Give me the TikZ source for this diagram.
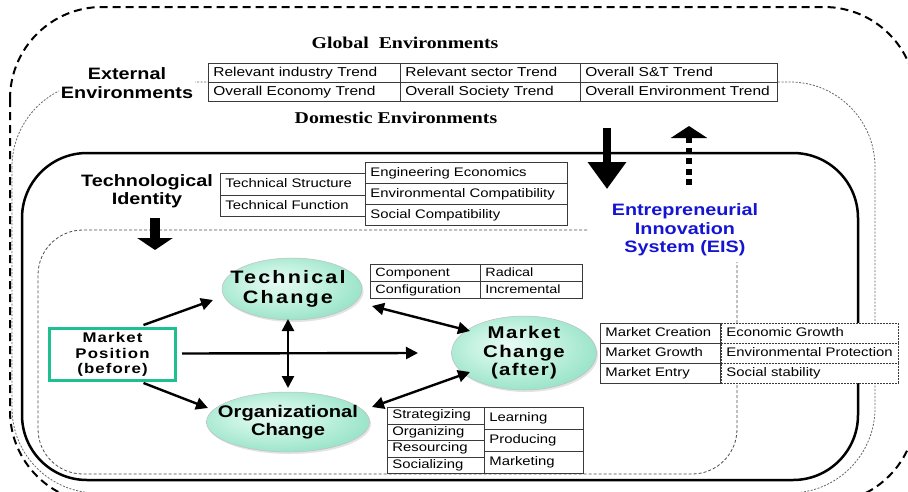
\documentclass[tikz,border=0pt]{standalone}
\usepackage{fontspec}
\setmainfont{Liberation Sans}
\newfontfamily\tabf{Liberation Sans}[FakeStretch=1.2]
\newfontfamily\serf{Liberation Serif}[FakeStretch=1.2]
\newfontfamily\tcf{Liberation Sans}[FakeStretch=1.2,LetterSpace=12]
\newfontfamily\mcf{Liberation Sans}[FakeStretch=1.2,LetterSpace=8]
\usetikzlibrary{arrows.meta,calc,shapes.geometric,shadows}
\definecolor{tabline}{HTML}{3A3A3A}
\definecolor{mpgreen}{HTML}{1FC08F}
\definecolor{eisblue}{HTML}{1414D2}
\definecolor{ellin}{HTML}{E8FBF4}
\definecolor{ellmid}{HTML}{C4F2E1}
\definecolor{ellout}{HTML}{98E3C8}
\pgfdeclareradialshading{ellshade}{\pgfpoint{-6bp}{6bp}}{color(0bp)=(ellin);color(14bp)=(ellmid);color(29bp)=(ellout);color(50bp)=(ellout)}
\newcommand\tcell[7][cell]{\pgfmathsetmacro\cw{#5-10}\node[#1, text width=\cw pt, minimum height=#6pt] (#2) at (#3,#4) {#7};}
\tikzset{
  cell/.style={draw=tabline, line width=0.8pt, fill=white, anchor=north west, inner xsep=5pt, inner ysep=0pt,
    align=left, font=\tabf\fontsize{12.4}{14}\selectfont, text height=9pt, text depth=2.5pt},
  bcell/.style={cell, font=\tabf\fontsize{12.9}{14}\selectfont},
  dcell/.style={cell, dash pattern=on 2pt off 1pt},
  scell/.style={cell, font=\tabf\fontsize{12}{13}\selectfont},
  hd/.style={font=\tabf\bfseries\fontsize{16.5}{18.5}\selectfont, align=center, inner sep=2pt},
  serhd/.style={font=\serf\bfseries\fontsize{16.5}{18.5}\selectfont, inner sep=1pt},
  ell/.style={ellipse, draw=black!25, line width=0.5pt, shading=ellshade, inner sep=0pt,
    drop shadow={shadow xshift=1.5pt, shadow yshift=-2pt, fill=black!22}},
  elltxt/.style={align=center, inner sep=0pt},
  arr/.style={line width=2.4pt, -{Triangle[length=12pt,width=12pt]}},
  darr/.style={line width=2.4pt, {Triangle[length=12pt,width=12pt]}-{Triangle[length=12pt,width=12pt]}},
}
\begin{document}
\begin{tikzpicture}[x=1pt,y=-1pt]
\useasboundingbox (0,0) rectangle (908,491);
\clip (0,0) rectangle (908,491);
% boundaries
\draw[line width=2pt, dash pattern=on 8pt off 5pt, rounded corners=92] (10,7) rectangle (916,503);
\draw[black!60, line width=0.8pt, dash pattern=on 2pt off 1.5pt, rounded corners=85] (12,82) rectangle (875,493);
\draw[line width=2.5pt, rounded corners=65] (22,153) rectangle (858,480);
\draw[black!70, line width=0.8pt, dash pattern=on 3pt off 2pt, rounded corners=45] (587,230) -- (38,230) -- (38,474) -- (737,474) -- (737,262);
% headings
\node[serhd] (glob) at (405,43) {Global\hspace{0.6em}Environments};
\node[serhd] (dom) at (396,118) {Domestic Environments};
\node[hd, fill=white] (ext) at (127,83) {External\\Environments};
\node[hd] (tid) at (147,191) {Technological\\Identity};
\node[hd, text=eisblue] (eis) at (685,230) {Entrepreneurial\\Innovation\\System (EIS)};
% table 1
\tcell[bcell]{t1a}{208}{63}{192}{19}{Relevant industry Trend}
\tcell[bcell]{t1b}{400}{63}{180}{19}{Relevant sector Trend}
\tcell[bcell]{t1c}{580}{63}{197}{19}{Overall S\&T Trend}
\tcell[bcell]{t1d}{208}{82}{192}{19}{Overall Economy Trend}
\tcell[bcell]{t1e}{400}{82}{180}{19}{Overall Society Trend}
\tcell[bcell]{t1f}{580}{82}{197}{19}{Overall Environment Trend}
% table 2
\tcell{t2a}{220}{173}{145}{22}{Technical Structure}
\tcell{t2b}{220}{195}{145}{21}{Technical Function}
\tcell{t2c}{365}{162}{202}{21}{Engineering Economics}
\tcell{t2d}{365}{183}{202}{21}{Environmental Compatibility}
\tcell{t2e}{365}{204}{202}{21}{Social Compatibility}
% table 3
\tcell[scell]{t3a}{370}{264}{110}{17}{Component}
\tcell[scell]{t3b}{480}{264}{102}{17}{Radical}
\tcell[scell]{t3c}{370}{281}{110}{17}{Configuration}
\tcell[scell]{t3d}{480}{281}{102}{17}{Incremental}
% table 4
\tcell{t4a}{600}{323}{120}{20}{Market Creation}
\tcell{t4b}{600}{343}{120}{20}{Market Growth}
\tcell{t4c}{600}{363}{120}{20}{Market Entry}
\tcell[dcell]{t4d}{721}{323}{177}{20}{Economic Growth}
\tcell[dcell]{t4e}{721}{343}{177}{20}{Environmental Protection}
\tcell[dcell]{t4f}{721}{363}{177}{20}{Social stability}
% table 5
\tcell{t5a}{387}{407}{97}{16.5}{Strategizing}
\tcell{t5b}{387}{423.5}{97}{16.5}{Organizing}
\tcell{t5c}{387}{440}{97}{16.5}{Resourcing}
\tcell{t5d}{387}{456.5}{97}{16.5}{Socializing}
\tcell{t5e}{484}{407}{99}{22}{Learning}
\tcell{t5f}{484}{429}{99}{22}{Producing}
\tcell{t5g}{484}{451}{99}{22}{Marketing}
% big arrows
\coordinate (ba1) at (607,128); \coordinate (ba2) at (607,189);
\draw[line width=8pt, -{Triangle[length=27pt,width=37pt]}] (ba1) -- (ba2);
\coordinate (du1) at (689,185); \coordinate (du2) at (689,126);
\draw[line width=6.5pt, dash pattern=on 6pt off 4.5pt, -{Triangle[length=12pt,width=36pt]}] (du1) -- (du2);
\coordinate (sa1) at (155,218); \coordinate (sa2) at (155,250);
\draw[line width=9.5pt, -{Triangle[length=12pt,width=35pt]}] (sa1) -- (sa2);
% ellipses and box
\node[ell, minimum width=140pt, minimum height=62pt,
  label={[elltxt, xshift=-4pt, font=\tcf\bfseries\fontsize{18}{19.5}\selectfont]center:{Technical\\Change}}] (tc) at (292,289) {};
\node[ell, minimum width=163pt, minimum height=60pt,
  label={[elltxt, font=\tabf\bfseries\fontsize{16.8}{18.5}\selectfont]center:{Organizational\\Change}}] (oc) at (288,422) {};
\node[ell, minimum width=145pt, minimum height=74pt,
  label={[elltxt, font=\mcf\bfseries\fontsize{17}{18.5}\selectfont]center:{Market\\Change\\(after)}}] (mc) at (524,353) {};
\node[draw=mpgreen, line width=3pt, fill=white, minimum width=126pt, minimum height=52pt, inner sep=0pt,
  align=center, font=\mcf\bfseries\fontsize{14}{15.5}\selectfont] (mp) at (112.5,354.5) {Market\\Position\\(before)};
% connectors
\draw[arr] ($(mp.north)+(31,-2)$) -- ($(tc.center)+(-79,11)$);
\draw[arr] ($(mp.south)+(31,1)$) -- ($(oc.center)+(-80,-14)$);
\draw[arr] ($(mp.east)+(5,-1)$) -- ($(mc.center)+(-106,0)$);
\draw[darr] ($(tc.center)+(-4,30)$) -- ($(oc.center)+(0,-34)$);
\draw[darr] ($(tc.center)+(80,17)$) -- ($(mc.center)+(-54,-22)$);
\draw[darr] ($(oc.center)+(84,-15)$) -- ($(mc.center)+(-54,19)$);
\end{tikzpicture}
\end{document}
